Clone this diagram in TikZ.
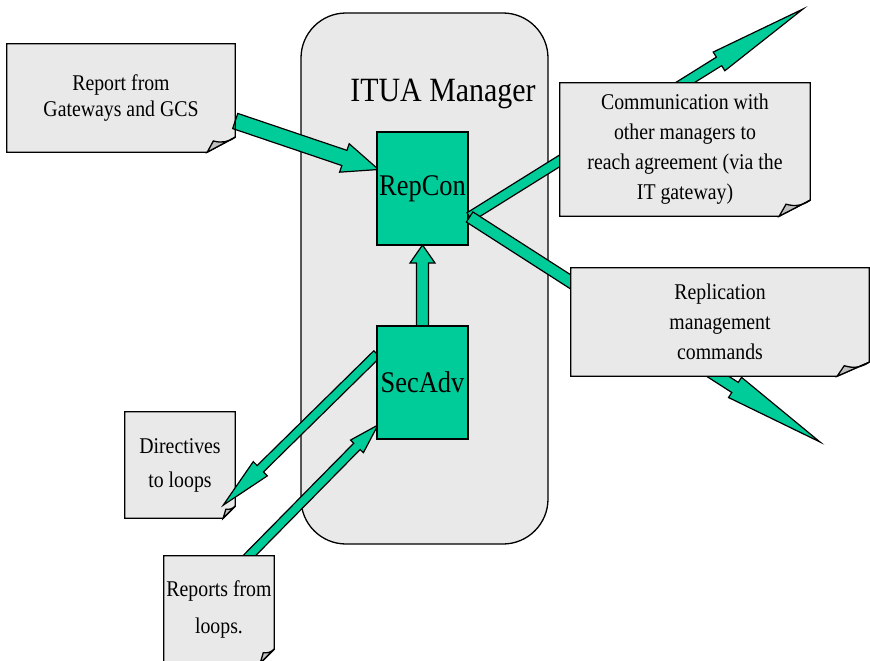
\documentclass[tikz,border=0pt]{standalone}
\usepackage{fontspec}
\setmainfont{Liberation Serif}[FakeStretch=0.88]
\usetikzlibrary{calc}
\definecolor{ituagreen}{HTML}{00CC99}
\definecolor{boxgray}{HTML}{E9E9E9}
\definecolor{foldgray}{HTML}{C0C0C0}
\newcommand\blockarrow[5]{%
  \coordinate (hb) at ($(#2)!#4!(#1)$);
  \draw[arrowbody] ($(#1)!#3!90:(#2)$) -- ($(hb)!#3!-90:(#1)$) -- ($(hb)!#5!-90:(#1)$) -- (#2)
    -- ($(hb)!#5!90:(#1)$) -- ($(hb)!#3!90:(#1)$) -- ($(#1)!#3!-90:(#2)$) -- cycle;
}
\newcommand\foldnote[3]{%
  \fill[white] ($(#1.south east)+(-#2,0)$) -- (#1.south east) -- ($(#1.south east)+(0,-#3)$) -- cycle;
  \draw[noteline] (#1.north west) -- (#1.north east) -- ($(#1.south east)+(0,-#3)$)
    -- ($(#1.south east)+(-#2,0)$) -- (#1.south west) -- cycle;
  \draw[noteline, fill=foldgray] ($(#1.south east)+(-#2,0)$) -- ($(#1.south east)+(-0.78*#2,-0.75*#3)$)
    to[bend right=25] ($(#1.south east)+(0,-#3)$) -- cycle;
}
\begin{document}
\begin{tikzpicture}[x=1pt, y=-1pt,
  manager/.style={draw=black, line width=1.3pt, fill=boxgray, rounded corners=45pt, minimum width=247pt, minimum height=531pt},
  module/.style={draw=black, line width=1.3pt, fill=ituagreen, inner sep=0pt, minimum width=91pt, minimum height=113pt, font=\fontsize{30}{36}\selectfont},
  note/.style={fill=boxgray, inner sep=0pt, align=center},
  noteline/.style={draw=black, line width=1.3pt, line join=miter},
  arrowbody/.style={draw=black, line width=1.2pt, fill=ituagreen, line join=miter}]
  \useasboundingbox (0,0) rectangle (870,661);
  \node[manager] (itua) at (424.5,278.5) {};
  \node[anchor=base, font=\fontsize{34}{40}\selectfont] (ituatitle) at (443,101) {ITUA Manager};
  % module places, needed by the arrows below
  \path (422.5,188.5) coordinate (repconpos) (422.5,382.5) coordinate (secadvpos);
  \node[note, minimum width=228pt, minimum height=108pt, font=\fontsize{22.5}{26}\selectfont] (report) at (121,98) {Report from\\Gateways and GCS};
  \coordinate (reportout) at ($(report.east)+(0,23)$);
  \coordinate (repconin) at ($(repconpos)+(-44,-19)$);
  \coordinate (secadvtop) at ($(secadvpos)+(0,-56.5)$);
  \coordinate (repconbot) at ($(repconpos)+(0,56.5)$);
  \coordinate (secadvout) at ($(secadvpos)+(-45.5,-28.5)$);
  \coordinate (secadvin) at ($(secadvpos)+(-44.5,42.5)$);
  \coordinate (loopsout) at (247,558);
  \blockarrow{reportout}{repconin}{8pt}{36pt}{15pt}
  \blockarrow{secadvtop}{repconbot}{6pt}{18pt}{12.5pt}
  \blockarrow{loopsout}{secadvin}{4.5pt}{30pt}{9pt}
  \node[note, minimum width=110pt, minimum height=106pt, font=\fontsize{22.5}{34}\selectfont] (directives) at (180,465) {Directives\\to loops};
  \foldnote{directives}{12}{12}
  \coordinate (directivestip) at ($(directives.south east)+(-12,-13)$);
  \blockarrow{secadvout}{directivestip}{4.5pt}{52pt}{10pt}
  \node[module] (repcon) at (repconpos) {RepCon};
  \node[module] (secadv) at (secadvpos) {SecAdv};
  \coordinate (repconout) at ($(repcon.east)+(1,28.5)$);
  \coordinate (commtip) at (803,9);
  \coordinate (repltip) at (820,442);
  \blockarrow{repconout}{commtip}{5pt}{99pt}{11pt}
  \blockarrow{repconout}{repltip}{6pt}{101pt}{12pt}
  \node[note, minimum width=250pt, minimum height=133pt, font=\fontsize{22.5}{30}\selectfont] (comm) at (685,149.5) {Communication with\\other managers to\\reach agreement (via the\\IT gateway)};
  \node[note, minimum width=298pt, minimum height=108pt, font=\fontsize{22.5}{30}\selectfont] (repl) at (720,322) {Replication\\management\\commands};
  \node[note, minimum width=110pt, minimum height=107pt, font=\fontsize{22.5}{37}\selectfont] (loops) at (219,609.5) {Reports from\\loops.};
  \foldnote{report}{28}{15}
  \foldnote{comm}{31}{16}
  \foldnote{repl}{32}{14}
  \foldnote{loops}{14}{14}
\end{tikzpicture}
\end{document}
